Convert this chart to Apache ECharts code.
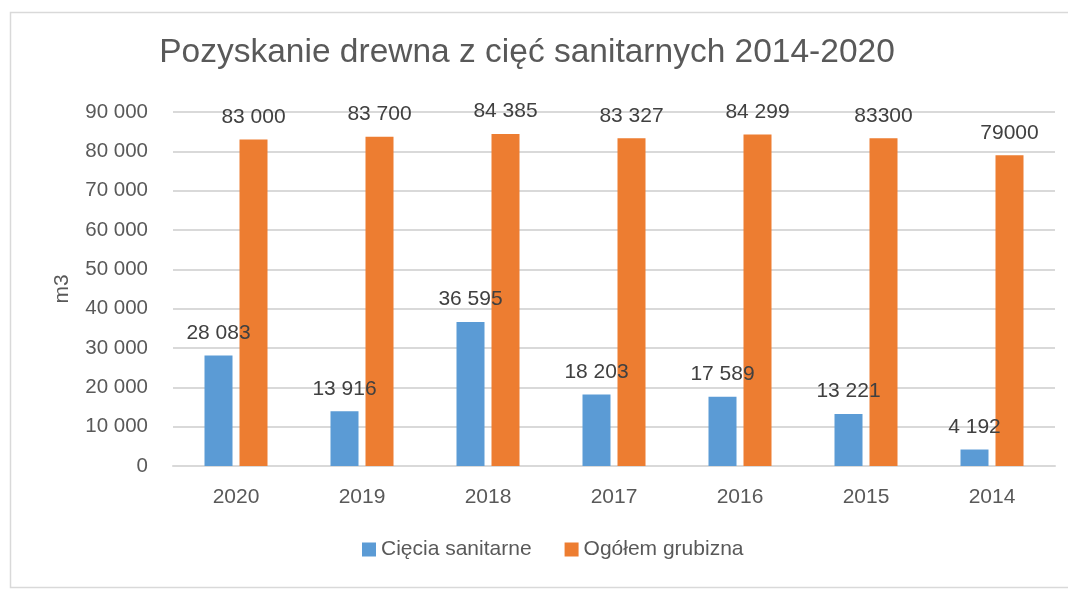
<!DOCTYPE html>
<html>
<head>
<meta charset="utf-8">
<script src="https://cdn.jsdelivr.net/npm/echarts@6/dist/echarts.min.js"></script>
<style>
  html, body { margin: 0; padding: 0; background: #fff; }
  #chart { width: 1068px; height: 589px; }
</style>
</head>
<body>
<div id="chart"></div>
<script>
// data
const years = ['2020', '2019', '2018', '2017', '2016', '2015', '2014'];
const sanitarne = [28083, 13916, 36595, 18203, 17589, 13221, 4192];
const grubizna = [83000, 83700, 84385, 83327, 84299, 83300, 79000];
// the source shows the last two totals without a thousands separator
const grubiznaLabels = ['83 000', '83 700', '84 385', '83 327', '84 299', '83300', '79000'];

const FONT = 'Liberation Sans';

function spaced(v) {
  return String(v).replace(/\B(?=(\d{3})+(?!\d))/g, ' ');
}

const chart = echarts.init(document.getElementById('chart'));

chart.setOption({
  backgroundColor: '#ffffff',
  textStyle: { fontFamily: FONT },
  graphic: [{
    type: 'rect',
    shape: { x: 10.5, y: 12.5, width: 1070, height: 575 },
    style: { fill: 'none', stroke: '#d9d9d9', lineWidth: 1.5 },
    silent: true
  }],
  title: {
    text: 'Pozyskanie drewna z cięć sanitarnych 2014-2020',
    left: 522,
    textAlign: 'center',
    top: 31,
    textStyle: { fontFamily: FONT, fontSize: 33.5, fontWeight: 'normal', color: '#595959' }
  },
  legend: {
    bottom: 24,
    left: 357,
    itemWidth: 14,
    itemHeight: 14,
    itemGap: 33,
    icon: 'rect',
    textStyle: { fontFamily: FONT, fontSize: 21, color: '#595959' },
    data: ['Cięcia sanitarne', 'Ogółem grubizna']
  },
  grid: { left: 173, right: 13, top: 112, bottom: 123 },
  xAxis: {
    type: 'category',
    data: years,
    axisLine: { lineStyle: { color: '#d9d9d9', width: 2 } },
    axisTick: { show: false },
    axisLabel: { fontFamily: FONT, fontSize: 21, color: '#595959', margin: 21 }
  },
  yAxis: {
    type: 'value',
    min: 0,
    max: 90000,
    interval: 10000,
    name: 'm3',
    nameLocation: 'middle',
    nameGap: 100,
    nameRotate: 90,
    nameTextStyle: { fontFamily: FONT, fontSize: 21, color: '#595959' },
    axisLine: { show: false },
    axisTick: { show: false },
    splitLine: { lineStyle: { color: '#d9d9d9', width: 2 } },
    axisLabel: {
      fontFamily: FONT, fontSize: 20.5, color: '#595959', margin: 25,
      formatter: v => spaced(v)
    }
  },
  series: [
    {
      name: 'Cięcia sanitarne',
      type: 'bar',
      data: sanitarne,
      barWidth: 28,
      barGap: '25%',
      itemStyle: { color: '#5b9bd5' },
      label: {
        show: true,
        position: 'top',
        distance: 12,
        fontFamily: FONT,
        fontSize: 21,
        color: '#404040',
        formatter: p => spaced(p.value)
      }
    },
    {
      name: 'Ogółem grubizna',
      type: 'bar',
      data: grubizna,
      barWidth: 28,
      itemStyle: { color: '#ed7d31' },
      label: {
        show: true,
        position: 'top',
        distance: 12,
        fontFamily: FONT,
        fontSize: 21,
        color: '#404040',
        formatter: p => grubiznaLabels[p.dataIndex]
      }
    }
  ]
});
</script>
</body>
</html>
